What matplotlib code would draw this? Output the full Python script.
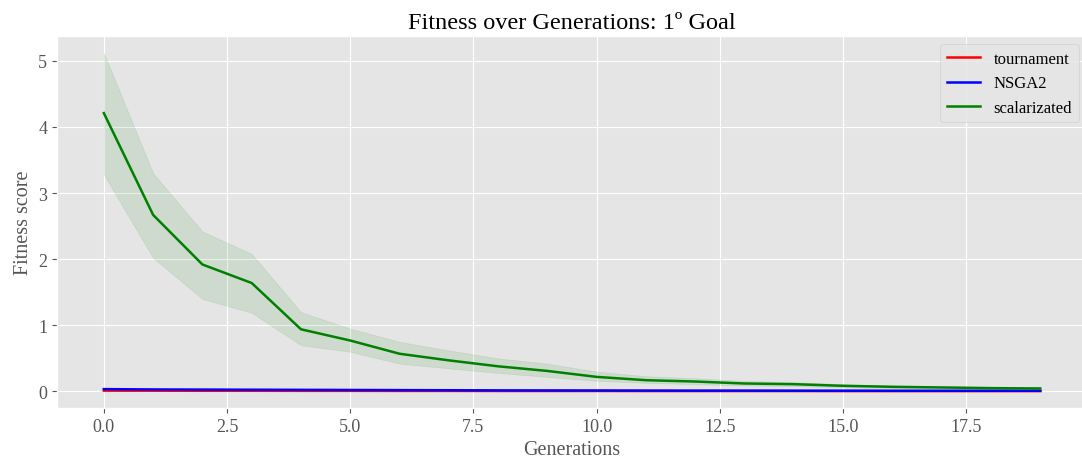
import numpy as np
import matplotlib.pyplot as plt

plt.style.use('ggplot')
plt.rcParams['font.family'] = ['Liberation Serif', 'DejaVu Serif']

generations = np.arange(20)

tournament = [0.012, 0.011, 0.010, 0.010, 0.009, 0.009, 0.008, 0.008, 0.007, 0.007,
              0.007, 0.006, 0.006, 0.006, 0.006, 0.005, 0.005, 0.005, 0.005, 0.005]
nsga2 = [0.035, 0.030, 0.028, 0.026, 0.024, 0.022, 0.020, 0.018, 0.016, 0.015,
         0.014, 0.013, 0.012, 0.012, 0.011, 0.011, 0.010, 0.010, 0.010, 0.010]
scalarizated = [4.21, 2.67, 1.92, 1.64, 0.94, 0.77, 0.57, 0.47, 0.38, 0.31,
                0.22, 0.17, 0.15, 0.12, 0.11, 0.085, 0.07, 0.06, 0.05, 0.045]
scal_upper = [5.12, 3.30, 2.42, 2.08, 1.20, 0.95, 0.75, 0.62, 0.50, 0.42,
              0.30, 0.23, 0.20, 0.16, 0.14, 0.11, 0.09, 0.08, 0.07, 0.06]
scal_lower = [3.28, 2.02, 1.40, 1.19, 0.70, 0.60, 0.42, 0.35, 0.28, 0.22,
              0.16, 0.13, 0.11, 0.09, 0.08, 0.06, 0.05, 0.045, 0.04, 0.035]

fig = plt.figure(figsize=(10.82, 4.64), dpi=100)
ax = fig.add_axes([0.0527, 0.1185, 0.952, 0.8017])

ax.plot(generations, tournament, color='red', lw=1.8, label='tournament')
ax.plot(generations, nsga2, color='blue', lw=1.8, label='NSGA2')
ax.plot(generations, scalarizated, color='green', lw=1.8, label='scalarizated')
ax.fill_between(generations, scal_lower, scal_upper, color='green', alpha=0.1)

ax.set_title('Fitness over Generations: 1º Goal', fontsize=17.5, color='black')
ax.set_xlabel('Generations', fontsize=14.5)
ax.set_ylabel('Fitness score', fontsize=14.5)
ax.tick_params(labelsize=13)
ax.legend(loc='upper right', fontsize=12)

fig.savefig('out.png')
